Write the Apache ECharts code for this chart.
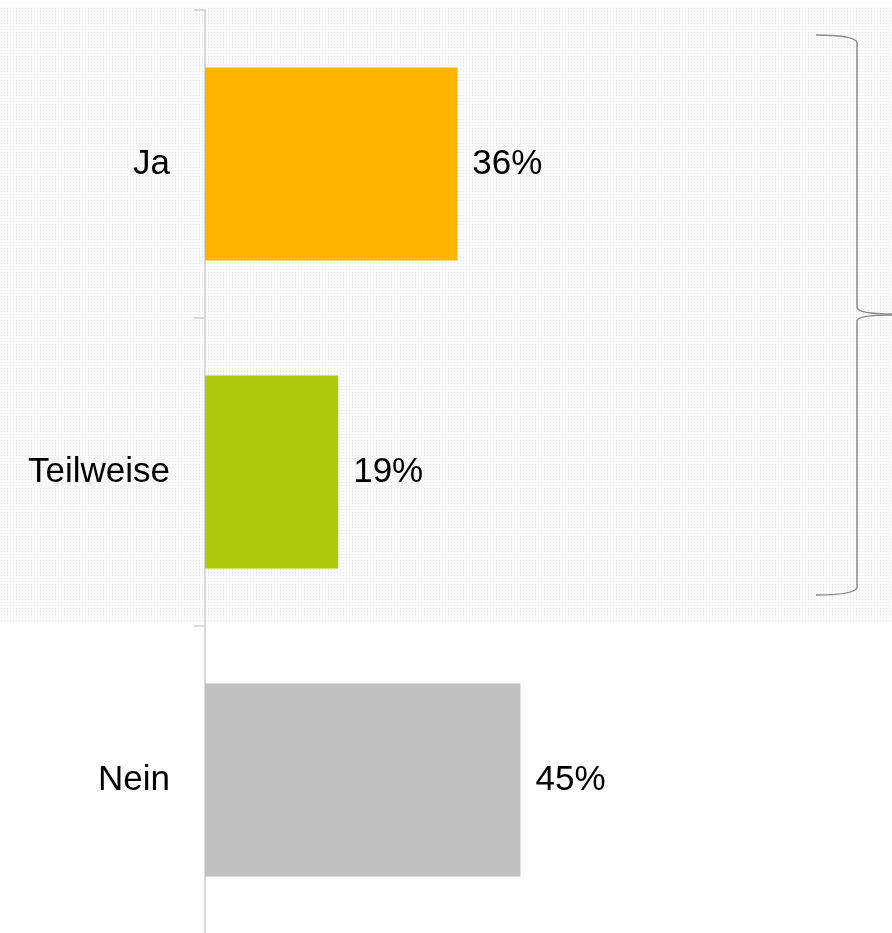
<!DOCTYPE html>
<html>
<head>
<meta charset="utf-8">
<script src="https://cdn.jsdelivr.net/npm/echarts@6/dist/echarts.min.js"></script>
<style>
  html, body { margin: 0; padding: 0; background: #fff; }
  #chart { width: 892px; height: 933px; }
</style>
</head>
<body>
<div id="chart"></div>
<script>
  /** Data */
  var categories = ['Ja', 'Teilweise', 'Nein'];
  var values = [36, 19, 45];
  var barColors = ['#FFB400', '#AEC90B', '#C0C0C0'];

  var chart = echarts.init(document.getElementById('chart'));

  var option = {
    animation: false,
    grid: { left: 205, top: 10, right: 0, height: 924, outerBoundsMode: 'none' },
    xAxis: {
      type: 'value', min: 0, max: 98, show: false,
      splitLine: { show: false }
    },
    yAxis: {
      type: 'category',
      inverse: true,
      data: categories,
      axisLine: { show: true, lineStyle: { color: '#d9d9d9', width: 2 } },
      axisTick: { show: true, length: 11, lineStyle: { color: '#d9d9d9', width: 2 } },
      axisLabel: {
        margin: 35, fontSize: 35, color: '#000',
        fontFamily: 'Liberation Sans, Arial, sans-serif'
      }
    },
    series: [{
      type: 'bar',
      barWidth: 193,
      z: 5,
      data: values.map(function(v, i) {
        return { value: v, itemStyle: { color: barColors[i] } };
      }),
      label: {
        show: true, position: 'right', distance: 15,
        formatter: '{c}%', fontSize: 35, color: '#000',
        fontFamily: 'Liberation Sans, Arial, sans-serif'
      }
    }]
  };
  chart.setOption(option);

  /** Dotted background band and brace around Ja/Teilweise, drawn straight on zrender */
  var zr = chart.getZr();
  var yJa = chart.convertToPixel({ yAxisIndex: 0 }, 'Ja');
  var yTw = chart.convertToPixel({ yAxisIndex: 0 }, 'Teilweise');
  var braceTop = yJa - 129, braceBottom = yTw + 123, braceMid = (braceTop + braceBottom) / 2;
  var bx = 857, lx = 816, tip = 892;

  var bg = new echarts.graphic.Group({ silent: true });
  bg.add(new echarts.graphic.Rect({
    shape: { x: 0, y: 7, width: 892, height: 615 },
    style: { fill: '#fbfbfb' },
    silent: true, zlevel: -1
  }));
  // faint dot grid
  for (var y = 8; y < 622; y += 3) {
    for (var x = 1; x < 892; x += 3) {
      bg.add(new echarts.graphic.Rect({
        shape: { x: x, y: y, width: 1, height: 1 },
        style: { fill: '#eaeaea' },
        silent: true, zlevel: -1
      }));
    }
  }
  zr.add(bg);

  function braceStyle() { return { stroke: '#8a8a8a', lineWidth: 1.5, fill: null }; }
  var parts = [
    new echarts.graphic.BezierCurve({ shape: { x1: lx, y1: braceTop, x2: bx, y2: braceTop + 7, cpx1: bx - 4, cpy1: braceTop } }),
    new echarts.graphic.Line({ shape: { x1: bx, y1: braceTop + 7, x2: bx, y2: braceMid - 8 } }),
    new echarts.graphic.BezierCurve({ shape: { x1: bx, y1: braceMid - 8, x2: tip, y2: braceMid - 1, cpx1: bx, cpy1: braceMid - 1 } }),
    new echarts.graphic.BezierCurve({ shape: { x1: bx, y1: braceMid + 6, x2: tip, y2: braceMid, cpx1: bx, cpy1: braceMid } }),
    new echarts.graphic.Line({ shape: { x1: bx, y1: braceMid + 6, x2: bx, y2: braceBottom - 7 } }),
    new echarts.graphic.BezierCurve({ shape: { x1: bx, y1: braceBottom - 7, x2: lx, y2: braceBottom, cpx1: bx - 4, cpy1: braceBottom } })
  ];
  parts.forEach(function(p) {
    p.setStyle(braceStyle());
    p.silent = true;
    p.z = 10;
    zr.add(p);
  });
</script>
</body>
</html>
